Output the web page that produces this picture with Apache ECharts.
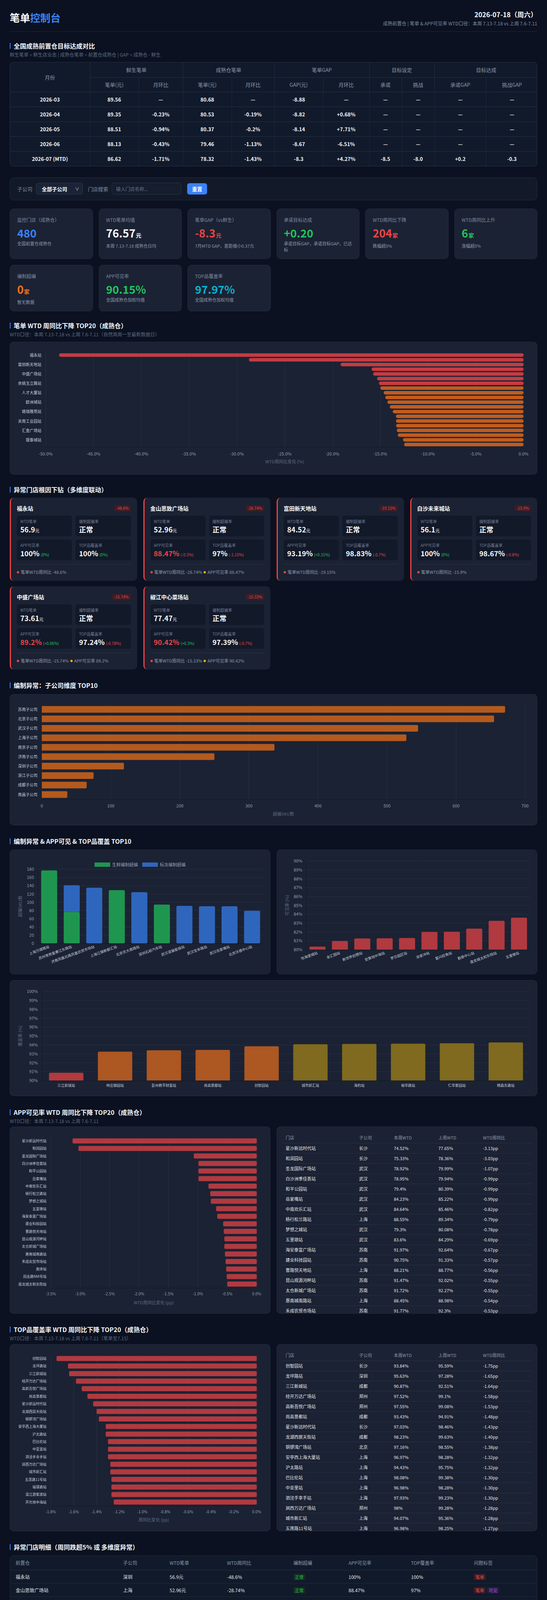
<!DOCTYPE html>
<html>
<head>
<meta charset="utf-8">
<title>笔单控制台</title>
<script src="https://cdn.jsdelivr.net/npm/echarts@6/dist/echarts.min.js"></script>
<style>
    body{margin:0;background:#0b1120;color:#e5e7eb;font-family:"Noto Sans CJK SC","Noto Sans",sans-serif;}
    .wrap{width:1350px;margin:0 25px;padding-bottom:50px;}
    .header{height:81px;border-bottom:1px solid #1f2a3c;display:flex;justify-content:space-between;box-sizing:border-box;padding-top:25px;}
    .logo{font-size:26px;font-weight:700;line-height:40px;color:#fff;}
    .logo span{color:#3b82f6;}
    .hd-right{text-align:right;margin-top:-1px;}
    .date{font-size:17px;font-weight:700;line-height:26px;color:#f8fafc;}
    .hd-sub{font-size:12px;line-height:18px;color:#7f8ca3;margin-top:1px;}
    .sec h2{margin:0;font-size:16px;line-height:22px;font-weight:700;color:#f1f5f9;position:relative;padding-left:10px;}
    .sec h2:before{content:"";position:absolute;left:0;top:4px;width:2px;height:15px;background:#3b82f6;}
    .sec .sub{font-size:12px;line-height:18px;color:#5b6b82;margin-top:3px;}
    .tbox{border:1px solid #263145;border-radius:8px;overflow:hidden;background:#111a2b;}
    #t1{border-collapse:collapse;width:100%;table-layout:fixed;font-size:13px;}
    #t1 th{padding:0;color:#8b98ad;font-weight:400;border-right:1px solid #222c3f;border-bottom:1px solid #263145;}
    #t1 td{padding:0;text-align:center;color:#f1f5f9;font-weight:600;height:37px;border-right:1px solid #1d2738;border-bottom:1px solid #263145;}
    #t1 tr:last-child td{border-bottom:none;}
    #t1 th:last-child,#t1 td:last-child{border-right:none;}
    .filter{margin-top:28px;height:59px;box-sizing:border-box;background:#121a2a;border:1px solid #1f2a3c;border-radius:10px;display:flex;align-items:center;padding:0 18px;font-size:13px;}
    .filter .lb{color:#7f8ca3;margin-right:9px;}
    .sel{width:120px;height:30px;box-sizing:border-box;background:#1b2436;border:1px solid #2a364b;border-radius:6px;color:#fff;font-weight:700;display:flex;align-items:center;justify-content:space-between;padding:0 8px 0 14px;margin-right:13px;}
    .sel span{font-weight:400;font-size:11px;color:#cbd5e1;}
    .filter input{width:178px;height:30px;box-sizing:border-box;background:#151d2e;border:1px solid #2a364b;border-radius:6px;color:#fff;padding:0 10px;font-size:12px;font-family:inherit;margin-right:15px;}
    .filter input::placeholder{color:#64748b;}
    .btn{width:51px;height:29px;border-radius:6px;background:#3b82f6;color:#fff;font-weight:700;display:flex;align-items:center;justify-content:center;}
    .kpis{margin-top:21px;display:grid;grid-template-columns:repeat(6,1fr);gap:15px;}
    .kpi{background:#1b2233;border:1px solid #222c40;border-radius:10px;padding:20px 18px 15px;box-sizing:border-box;}
    .kpi .k-l{font-size:12px;line-height:16px;color:#7f8ca3;}
    .kpi .k-v{font-size:28px;line-height:34px;font-weight:700;margin-top:8px;}
    .kpi .k-v small{font-size:14px;margin-left:1px;}
    .kpi .k-s{font-size:11px;line-height:16px;color:#8b98ad;margin-top:2px;}
    .card{background:#1b2233;border-radius:10px;box-shadow:inset 0 0 0 1px #222c40;position:relative;overflow:hidden;}
    .anos{display:grid;grid-template-columns:repeat(4,1fr);column-gap:16px;row-gap:14px;}
    .ano{height:213px;box-sizing:border-box;background:#1b2233;border-radius:10px;border-left:3px solid #ef4444;padding:17px 16px 0 15px;}
    .ano-hd{display:flex;justify-content:space-between;align-items:center;height:20px;}
    .ano-hd .nm{font-size:14px;font-weight:700;color:#f8fafc;}
    .badge{font-size:10px;color:#ef4444;background:#3a1d27;border-radius:4px;padding:2px 5px;line-height:12px;}
    .boxes{display:grid;grid-template-columns:1fr 1fr;column-gap:9px;row-gap:8px;margin-top:9px;}
    .bx{height:53px;box-sizing:border-box;background:#121929;border-radius:6px;padding:9px 9px 0;}
    .bx .l{font-size:10px;line-height:12px;color:#6f7c93;}
    .bx .v{font-size:18px;line-height:24px;font-weight:700;color:#f8fafc;margin-top:2px;white-space:nowrap;}
    .bx .v small{font-size:11px;font-weight:400;}
    .bx .v .chg{font-size:10px;font-weight:400;margin-left:3px;}
    .red{color:#ef4444;} .green{color:#22c55e;}
    .ano-ft{margin-top:10px;border-top:1px solid #2a3447;padding-top:11px;font-size:11px;line-height:16px;color:#8b98ad;}
    .dot{display:inline-block;width:6px;height:6px;border-radius:3px;margin-right:4px;vertical-align:1px;}
    .dot.r{background:#ef4444;} .dot.y{background:#eab308;margin-left:4px;}
    .row2{display:flex;justify-content:space-between;}
    .mini{position:absolute;left:14px;right:14px;top:14px;}
    .mini table{border-collapse:collapse;width:100%;table-layout:fixed;font-size:11px;}
    .mini th{color:#8b98ad;font-weight:400;text-align:left;height:28px;padding:0 0 0 9px;border-bottom:1px solid #263145;}
    .mini td{height:25px;padding:0 0 0 9px;color:#e5e7eb;border-bottom:1px solid #263145;white-space:nowrap;}
    .dtl{background:#111a2a;border:1px solid #1f2a3c;border-radius:10px;height:419px;box-sizing:border-box;overflow:hidden;}
    .dtl table{border-collapse:collapse;width:100%;table-layout:fixed;font-size:12px;}
    .dtl th{height:36px;text-align:left;padding:0 0 0 14px;color:#8b98ad;font-weight:400;border-bottom:1px solid #263145;}
    .dtl td{height:33px;padding:0 0 0 14px;color:#e5e7eb;border-bottom:1px solid #1f2a3c;}
    .tag{display:inline-block;font-size:11px;line-height:16px;padding:0 4px;border-radius:3px;margin-right:4px;}
    .tag.ok{color:#22c55e;background:#12301f;}
    .tag.bd{color:#ef4444;background:#3a1d27;}
    .tag.kj{color:#a855f7;background:#2a1d45;}
</style>
</head>
<body>
<div class="wrap">
    <div class="header">
        <div class="logo">笔单<span>控制台</span></div>
        <div class="hd-right">
            <div class="date">2026-07-18（周六）</div>
            <div class="hd-sub">成熟前置仓 | 笔单 &amp; APP可见率 WTD口径：本周 7.13-7.18 vs 上周 7.6-7.11</div>
        </div>
    </div>

    <div class="sec" style="margin:25px 0 10px"><h2>全国成熟前置仓目标达成对比</h2><div class="sub">鲜生笔单 = 鲜生店业态 | 成熟仓笔单 = 前置仓成熟仓 | GAP = 成熟仓 - 鲜生</div></div>
    <div class="tbox"><table id="t1"></table></div>

    <div class="filter">
        <span class="lb">子公司</span><div class="sel">全部子公司<span>∨</span></div>
        <span class="lb">门店搜索</span><input type="text" placeholder="输入门店名称...">
        <div class="btn">重置</div>
    </div>

    <div class="kpis" id="kpis"></div>

    <div class="sec" style="margin:25px 0 10px"><h2>笔单 WTD 周同比下降 TOP20（成熟仓）</h2><div class="sub">WTD口径：本周 7.13-7.18 vs 上周 7.6-7.11（自然周周一至最新数据日）</div></div>
    <div class="card" style="height:340px"><div id="cA" style="width:1350px;height:340px"></div></div>

    <div class="sec" style="margin:27px 0 10px"><h2>异常门店根因下钻（多维度联动）</h2></div>
    <div class="anos" id="anos"></div>

    <div class="sec" style="margin:29px 0 12px"><h2>编制异常：子公司维度 TOP10</h2></div>
    <div class="card" style="height:336px"><div id="cB" style="width:1350px;height:336px"></div></div>

    <div class="sec" style="margin:29px 0 11px"><h2>编制异常 &amp; APP可见 &amp; TOP品覆盖 TOP10</h2></div>
    <div class="row2">
        <div class="card" style="width:667px;height:319px"><div id="cC" style="width:667px;height:319px"></div></div>
        <div class="card" style="width:667px;height:319px"><div id="cD" style="width:667px;height:319px"></div></div>
    </div>
    <div class="card" style="height:297px;margin-top:15px"><div id="cE" style="width:1350px;height:297px"></div></div>

    <div class="sec" style="margin:30px 0 5px"><h2>APP可见率 WTD 周同比下降 TOP20（成熟仓）</h2><div class="sub">WTD口径：本周 7.13-7.18 vs 上周 7.6-7.11</div></div>
    <div class="row2">
        <div class="card" style="width:667px;height:479px"><div id="cF" style="width:667px;height:479px"></div></div>
        <div class="card" style="width:667px;height:479px"><div class="mini" id="tF"></div></div>
    </div>

    <div class="sec" style="margin:29px 0 6px"><h2>TOP品覆盖率 WTD 周同比下降 TOP20（成熟仓）</h2><div class="sub">WTD口径：本周 7.13-7.18 vs 上周 7.6-7.11（笔单至7.15）</div></div>
    <div class="row2">
        <div class="card" style="width:667px;height:479px"><div id="cG" style="width:667px;height:479px"></div></div>
        <div class="card" style="width:667px;height:479px"><div class="mini" id="tG"></div></div>
    </div>

    <div class="sec" style="margin:29px 0 11px"><h2>异常门店明细（周同跌超5% 或 多维度异常）</h2></div>
    <div class="dtl" id="dtl"></div>
</div>

<script type="text/javascript">
    // 月度目标达成
    var months = ['2026-03', '2026-04', '2026-05', '2026-06', '2026-07 (MTD)']
    var freshAtv = ['89.56', '89.35', '88.51', '88.13', '86.62']
    var freshMom = ['—', '-0.23%', '-0.94%', '-0.43%', '-1.71%']
    var matureAtv = ['80.68', '80.53', '80.37', '79.46', '78.32']
    var matureMom = ['—', '-0.19%', '-0.2%', '-1.13%', '-1.43%']
    var gapAtv = ['-8.88', '-8.82', '-8.14', '-8.67', '-8.3']
    var gapMom = ['—', '+0.68%', '+7.71%', '-6.51%', '+4.27%']
    var goalCommit = ['—', '—', '—', '—', '-8.5']
    var goalChallenge = ['—', '—', '—', '—', '-8.0']
    var reachCommit = ['—', '—', '—', '—', '+0.2']
    var reachChallenge = ['—', '—', '—', '—', '-0.3']

    // KPI卡片
    var kpiLabels = ['监控门店（成熟仓）', 'WTD笔单均值', '笔单GAP（vs鲜生）', '承诺目标达成', 'WTD周同比下降', 'WTD周同比上升', '编制超编', 'APP可见率', 'TOP品覆盖率']
    var kpiValues = ['480', '76.57', '-8.3', '+0.20', '204', '6', '0', '90.15%', '97.97%']
    var kpiUnits = ['', '元', '元', '', '家', '家', '家', '', '']
    var kpiSubs = ['全国前置仓成熟仓', '本周 7.13-7.18 成熟仓日均', '7月MTD GAP，差距缩小0.37元', '承诺目标GAP，承诺目标GAP，已达标', '跌幅超5%', '涨幅超5%', '暂无数据', '全国成熟仓加权均值', '全国成熟仓加权均值']
    var kpiTone = ['#3b82f6', '#f8fafc', '#ef4444', '#22c55e', '#ef4444', '#22c55e', '#f97316', '#22c55e', '#06b6d4']

    // 笔单WTD周同比下降TOP20
    var wtdNames = ['福永站', '金山思致广场站', '富田新天地站', '白沙未来城站', '中盛广场站', '椒江中心菜场站', '余姚玉立路站', '明城广场站', '人才大厦站', '仁汇大厦站',
        '欧洲城站', '东湖路站', '珞珈雅苑站', '南湖花园站', '关南工业园站', '世纪城站', '汇金广场站', '天河城站', '银泰城站', '滨江公园站']
    var wtdValues = [-48.6, -28.74, -19.15, -15.9, -15.74, -15.33, -15.13, -14.98, -14.64, -14.47,
        -14.25, -14.0, -13.69, -13.36, -13.35, -13.34, -13.27, -13.16, -12.62, -12.5]

    // 异常门店根因下钻
    var anoNames = ['福永站', '金山思致广场站', '富田新天地站', '白沙未来城站', '中盛广场站', '椒江中心菜场站']
    var anoDrop = [-48.6, -28.74, -19.15, -15.9, -15.74, -15.33]
    var anoAtv = [56.9, 52.96, 84.52, 56.1, 73.61, 77.47]
    var anoStaff = ['正常', '正常', '正常', '正常', '正常', '正常']
    var anoApp = [100, 88.47, 93.19, 100, 89.2, 90.42]
    var anoAppChg = [0, -0.3, 0.31, 0, 0.06, 0.3]
    var anoTop = [100, 97, 98.83, 98.67, 97.24, 97.39]
    var anoTopChg = [0, -1.15, -0.7, -0.8, -0.78, -0.7]

    // 子公司超编TOP10
    var subNames = ['苏南子公司', '北京子公司', '武汉子公司', '上海子公司', '南京子公司', '济南子公司', '深圳子公司', '浙江子公司', '成都子公司', '南昌子公司']
    var subValues = [671, 655, 545, 528, 337, 250, 119, 75, 65, 37]

    // 门店超编TOP10
    var staffNames = ['上海万顺路站', '苏州常熟富春江东路站', '济南凤凰北路凤凰农贸市场站', '上海江镇新都汇站', '北京农大南路站', '深圳石岩汽车站', '武汉诺展星座站', '武汉宝丰路站', '武汉岳家嘴站', '北京沃德中心站']
    var staffFresh = [177, 76, 0, 129, 0, 94, 0, 0, 0, 0]
    var staffFrozen = [0, 65, 135, 0, 124, 0, 91, 90, 90, 79]

    // APP可见率最低TOP10
    var appLowNames = ['怡海堡城站', '金汇园站', '新世界创憩站', '宏聚地中海站', '罗莎园区站', '涂家冲站', '富兴旺角站', '勤泰中心站', '盘龙城太和东院站', '五里墩站']
    var appLowValues = [80.34, 80.97, 81.26, 81.28, 81.31, 81.99, 82.01, 82.37, 83.25, 83.6]

    // TOP品覆盖率最低TOP10
    var topLowNames = ['三江新城站', '林庄御园站', '彭州教平财富站', '尚高景都站', '创智园站', '城市新汇站', '海豹站', '裕华路站', '仁华家园站', '韩森东路站']
    var topLowValues = [90.87, 93.24, 93.39, 93.43, 93.84, 94.07, 94.1, 94.13, 94.18, 94.27]

    // APP可见率WTD周同比下降TOP20
    var appDropNames = ['星沙新远时代站', '和润园站', '圣龙国际广场站', '白沙洲季佳荟站', '和平公园站', '岳家嘴站', '中南欢乐汇站', '杨行松兰路站', '梦想之城站', '五里墩站',
        '海安泰富广场站', '建业科技园站', '曹路悦天地站', '昆山观源河畔站', '太仓新城广场站', '惠南城南路站', '禾成农贸市场站', '奥体站', '润业路888号站', '盘龙城太和东院站']
    var appDropValues = [-3.13, -3.03, -1.07, -0.99, -0.99, -0.99, -0.82, -0.79, -0.78, -0.69,
        -0.67, -0.57, -0.56, -0.55, -0.55, -0.54, -0.53, -0.52, -0.51, -0.50]
    var appDropSub = ['长沙', '长沙', '武汉', '武汉', '武汉', '武汉', '武汉', '上海', '武汉', '武汉', '苏南', '苏南', '上海', '苏南', '苏南', '上海', '苏南']
    var appDropCur = ['74.52%', '75.33%', '78.92%', '78.95%', '79.4%', '84.23%', '84.64%', '88.55%', '79.3%', '83.6%', '91.97%', '90.75%', '88.21%', '91.47%', '91.72%', '88.45%', '91.77%']
    var appDropPrev = ['77.65%', '78.36%', '79.99%', '79.94%', '80.39%', '85.22%', '85.46%', '89.34%', '80.08%', '84.29%', '92.64%', '91.33%', '88.77%', '92.02%', '92.27%', '88.98%', '92.3%']

    // TOP品覆盖率WTD周同比下降TOP20
    var topDropNames = ['创智园站', '龙坪路站', '三江新城站', '经开万达广场站', '高新吾悦广场站', '尚高景都站', '星沙新远时代站', '龙湖西宸天街站', '铜锣湾广场站', '安亭西上海大厦站',
        '沪太路站', '巴比伦站', '中亚里站', '泗泾手幸手站', '涧西万达广场站', '城市新汇站', '五莲路11号站', '福璟路站', '温江游家渡站', '开元地中海站']
    var topDropValues = [-1.75, -1.65, -1.64, -1.58, -1.53, -1.48, -1.43, -1.40, -1.38, -1.32,
        -1.32, -1.30, -1.30, -1.30, -1.28, -1.28, -1.27, -1.27, -1.27, -1.25]
    var topDropSub = ['长沙', '深圳', '成都', '郑州', '郑州', '成都', '长沙', '成都', '北京', '上海', '上海', '上海', '上海', '上海', '郑州', '上海', '上海']
    var topDropCur = ['93.84%', '95.63%', '90.87%', '97.52%', '97.55%', '93.43%', '97.03%', '98.23%', '97.16%', '96.97%', '94.43%', '98.08%', '96.98%', '97.93%', '98%', '94.07%', '96.98%']
    var topDropPrev = ['95.59%', '97.28%', '92.51%', '99.1%', '99.08%', '94.91%', '98.46%', '99.63%', '98.55%', '98.28%', '95.75%', '99.38%', '98.28%', '99.23%', '99.28%', '95.36%', '98.25%']

    // 异常门店明细
    var dtlNames = ['福永站', '金山思致广场站', '富田新天地站', '白沙未来城站', '中盛广场站', '椒江中心菜场站', '余姚玉立路站', '明城广场站', '人才大厦站', '仁汇大厦站', '欧洲城站']
    var dtlSub = ['深圳', '上海', '郑州', '武汉', '浙江', '浙江', '浙江', '浙江', '浙江', '浙江', '浙江']
    var dtlAtv = ['56.9元', '52.96元', '84.52元', '56.1元', '73.61元', '77.47元', '73.87元', '74.46元', '75.8元', '66.46元', '76.04元']
    var dtlWow = ['-48.6%', '-28.74%', '-19.15%', '-15.9%', '-15.74%', '-15.33%', '-15.13%', '-14.98%', '-14.64%', '-14.47%', '-14.25%']
    var dtlStaff = ['正常', '正常', '正常', '正常', '正常', '正常', '正常', '正常', '正常', '正常', '正常']
    var dtlApp = ['100%', '88.47%', '93.19%', '100%', '89.2%', '90.42%', '92.08%', '91.16%', '90.52%', '90.95%', '90.98%']
    var dtlTop = ['100%', '97%', '98.83%', '98.67%', '97.24%', '97.39%', '98.45%', '98.4%', '97.5%', '97.48%', '97.48%']
    var dtlTags = [['笔单'], ['笔单', '可见'], ['笔单'], ['笔单'], ['笔单', '可见'], ['笔单', '可见'], ['笔单', '可见'], ['笔单', '可见'], ['笔单', '可见'], ['笔单', '可见'], ['笔单', '可见']]

    // ---------- 表格 ----------
    var h = '<colgroup><col style="width:204px"><col style="width:125px"><col style="width:113px"><col style="width:125px"><col style="width:109px"><col style="width:125px"><col style="width:118px"><col style="width:83px"><col style="width:84px"><col style="width:132px"><col style="width:132px"></colgroup>'
    h += '<tr style="height:38px"><th rowspan="2">月份</th><th colspan="2">鲜生笔单</th><th colspan="2">成熟仓笔单</th><th colspan="2">笔单GAP</th><th colspan="2">目标设定</th><th colspan="2">目标达成</th></tr>'
    h += '<tr style="height:37px"><th>笔单(元)</th><th>月环比</th><th>笔单(元)</th><th>月环比</th><th>GAP(元)</th><th>月环比</th><th>承诺</th><th>挑战</th><th>承诺GAP</th><th>挑战GAP</th></tr>'
    for (var i = 0; i < months.length; i++) {
        h += '<tr><td>' + [months[i], freshAtv[i], freshMom[i], matureAtv[i], matureMom[i], gapAtv[i], gapMom[i], goalCommit[i], goalChallenge[i], reachCommit[i], reachChallenge[i]].join('</td><td>') + '</td></tr>'
    }
    document.getElementById('t1').innerHTML = h

    h = ''
    for (var i = 0; i < kpiLabels.length; i++) {
        h += '<div class="kpi"><div class="k-l">' + kpiLabels[i] + '</div><div class="k-v" style="color:' + kpiTone[i] + '">' + kpiValues[i] +
            (kpiUnits[i] ? '<small>' + kpiUnits[i] + '</small>' : '') + '</div><div class="k-s">' + kpiSubs[i] + '</div></div>'
    }
    document.getElementById('kpis').innerHTML = h

    function chg(v) {
        return '<span class="chg ' + (v < 0 ? 'red' : 'green') + '">(' + (v > 0 ? '+' : '') + v + '%)</span>'
    }
    function box(l, v) {
        return '<div class="bx"><div class="l">' + l + '</div><div class="v">' + v + '</div></div>'
    }
    h = ''
    for (var i = 0; i < anoNames.length; i++) {
        var appBad = anoApp[i] < 91
        h += '<div class="ano"><div class="ano-hd"><span class="nm">' + anoNames[i] + '</span><span class="badge">' + anoDrop[i] + '%</span></div>' +
            '<div class="boxes">' +
            box('WTD笔单', anoAtv[i] + '<small>元</small>') +
            box('编制超编率', anoStaff[i]) +
            box('APP可见率', '<span class="' + (appBad ? 'red' : '') + '">' + anoApp[i] + '%</span>' + chg(anoAppChg[i])) +
            box('TOP品覆盖率', anoTop[i] + '%' + chg(anoTopChg[i])) +
            '</div><div class="ano-ft"><i class="dot r"></i>笔单WTD周同比 ' + anoDrop[i] + '%' +
            (appBad ? '<i class="dot y"></i>APP可见率 ' + anoApp[i] + '%' : '') + '</div></div>'
    }
    document.getElementById('anos').innerHTML = h

    function miniTable(id, names, subs, cur, prev, vals) {
        var s = '<table><colgroup><col style="width:188px"><col style="width:89px"><col style="width:114px"><col style="width:114px"><col></colgroup>'
        s += '<tr><th>门店</th><th>子公司</th><th>本周WTD</th><th>上周WTD</th><th>WTD周同比</th></tr>'
        for (var i = 0; i < subs.length; i++) {
            s += '<tr><td>' + names[i] + '</td><td>' + subs[i] + '</td><td>' + cur[i] + '</td><td>' + prev[i] + '</td><td class="red">' + vals[i].toFixed(2) + 'pp</td></tr>'
        }
        document.getElementById(id).innerHTML = s + '</table>'
    }
    miniTable('tF', appDropNames, appDropSub, appDropCur, appDropPrev, appDropValues)
    miniTable('tG', topDropNames, topDropSub, topDropCur, topDropPrev, topDropValues)

    h = '<table><colgroup><col style="width:275px"><col style="width:119px"><col style="width:147px"><col style="width:170px"><col style="width:141px"><col style="width:160px"><col style="width:161px"><col></colgroup>'
    h += '<tr><th>前置仓</th><th>子公司</th><th>WTD笔单</th><th>WTD周同比</th><th>编制超编</th><th>APP可见率</th><th>TOP覆盖率</th><th>问题标签</th></tr>'
    for (var i = 0; i < dtlNames.length; i++) {
        var tags = ''
        for (var j = 0; j < dtlTags[i].length; j++) {
            tags += '<span class="tag ' + (dtlTags[i][j] == '笔单' ? 'bd' : 'kj') + '">' + dtlTags[i][j] + '</span>'
        }
        h += '<tr><td>' + dtlNames[i] + '</td><td>' + dtlSub[i] + '</td><td>' + dtlAtv[i] + '</td><td>' + dtlWow[i] + '</td><td><span class="tag ok">' + dtlStaff[i] + '</span></td><td>' +
            dtlApp[i] + '</td><td>' + dtlTop[i] + '</td><td>' + tags + '</td></tr>'
    }
    document.getElementById('dtl').innerHTML = h + '</table>'

    // ---------- 图表 ----------
    var font = '"Noto Sans CJK SC","Noto Sans",sans-serif'
    var axisC = '#94a3b8', catC = '#cbd5e1', splitC = '#252f42', nameC = '#5f6f86', baseC = '#121826'

    function pct1(v) { return v.toFixed(1) + '%' }

    function hbar(id, names, values, grid, x, color, barW, labelInterval, catSize) {
        var c = echarts.init(document.getElementById(id))
        c.setOption({
            animation: false,
            textStyle: {fontFamily: font},
            grid: Object.assign({outerBoundsMode: 'none'}, grid),
            xAxis: {
                type: 'value', min: x.min, max: x.max, interval: x.interval,
                axisLabel: {color: axisC, fontSize: x.fontSize, margin: x.margin, formatter: x.formatter},
                splitLine: {show: true, lineStyle: {color: splitC}},
                axisLine: {show: true, onZero: false, lineStyle: {color: baseC}},
                axisTick: {show: false},
                name: x.name, nameLocation: 'middle', nameGap: x.nameGap,
                nameTextStyle: {color: nameC, fontSize: 11}
            },
            yAxis: {
                type: 'category', inverse: true, data: names, position: 'left',
                axisLabel: {color: catC, fontSize: catSize, interval: labelInterval, margin: 11},
                axisLine: {show: false, onZero: false}, axisTick: {show: false}
            },
            series: [{type: 'bar', data: values, barWidth: barW, itemStyle: {color: color, borderRadius: x.radius}}]
        })
    }

    hbar('cA', wtdNames, wtdValues, {left: 92, right: 35, top: 28, bottom: 71},
        {min: -50, max: 0, interval: 5, fontSize: 11, margin: 12, formatter: pct1, name: 'WTD周同比变化 (%)', nameGap: 32, radius: 5},
        function (p) { return p.value <= -15 ? '#c43c42' : '#c05c1e' }, 9, 1, 10)

    hbar('cB', subNames, subValues, {left: 82, right: 31, top: 27, bottom: 67},
        {min: 0, max: 700, interval: 100, fontSize: 11, margin: 11, formatter: '{value}', name: '超编SKU数', nameGap: 32, radius: [0, 3, 3, 0]},
        '#b45a1e', 17, 0, 10)

    hbar('cF', appDropNames, appDropValues, {left: 105, right: 35, top: 27, bottom: 66},
        {min: -3.5, max: 0, interval: 0.5, fontSize: 10, margin: 10, formatter: pct1, name: 'WTD周同比变化 (pp)', nameGap: 32, radius: 3},
        '#b03a40', 13, 0, 9)

    hbar('cG', topDropNames, topDropValues, {left: 105, right: 35, top: 27, bottom: 65},
        {min: -1.8, max: 0, interval: 0.2, fontSize: 10, margin: 10, formatter: pct1, name: '周同比变化 (pp)', nameGap: 30, radius: 3},
        '#b03a40', 13, 0, 9)

    function vAxis(min, max, interval, fmt, name, gap) {
        return {
            type: 'value', min: min, max: max, interval: interval,
            axisLabel: {color: axisC, fontSize: 11, margin: 10, formatter: fmt},
            splitLine: {show: true, lineStyle: {color: splitC}},
            axisLine: {show: true, lineStyle: {color: baseC}},
            name: name, nameLocation: 'middle', nameGap: gap, nameTextStyle: {color: nameC, fontSize: 11}
        }
    }
    function cAxis(names, rotate) {
        return {
            type: 'category', data: names,
            axisLabel: {color: catC, fontSize: 9, interval: 0, rotate: rotate, margin: 8},
            axisTick: {show: false}, axisLine: {lineStyle: {color: baseC}}
        }
    }

    var cC = echarts.init(document.getElementById('cC'))
    cC.setOption({
        animation: false,
        textStyle: {fontFamily: font},
        legend: {top: 28, icon: 'rect', itemWidth: 40, itemHeight: 11, itemGap: 11, textStyle: {color: axisC, fontSize: 11}},
        grid: {left: 72, right: 18, top: 50, bottom: 79, outerBoundsMode: 'none'},
        xAxis: cAxis(staffNames, 20),
        yAxis: vAxis(0, 180, 20, '{value}', '超编SKU数', 38),
        series: [
            {name: '生鲜编制超编', type: 'bar', stack: 'sku', data: staffFresh, barWidth: 41, itemStyle: {color: '#1f9650', borderRadius: 3}},
            {name: '标冻编制超编', type: 'bar', stack: 'sku', data: staffFrozen, barWidth: 41, itemStyle: {color: '#2f66bd', borderRadius: 3}}
        ]
    })

    var cD = echarts.init(document.getElementById('cD'))
    cD.setOption({
        animation: false,
        textStyle: {fontFamily: font},
        grid: {left: 76, right: 18, top: 29, bottom: 63, outerBoundsMode: 'none'},
        xAxis: cAxis(appLowNames, 20),
        yAxis: vAxis(80, 90, 1, '{value}%', '可见率 (%)', 42),
        series: [{type: 'bar', data: appLowValues, barWidth: 41, itemStyle: {color: '#b03a40', borderRadius: [3, 3, 0, 0]}}]
    })

    var cE = echarts.init(document.getElementById('cE'))
    cE.setOption({
        animation: false,
        textStyle: {fontFamily: font},
        grid: {left: 82, right: 18, top: 29, bottom: 40, outerBoundsMode: 'none'},
        xAxis: cAxis(topLowNames, 0),
        yAxis: vAxis(90, 100, 1, '{value}%', '覆盖率 (%)', 49),
        series: [{
            type: 'bar', data: topLowValues, barWidth: 88,
            itemStyle: {
                borderRadius: [3, 3, 0, 0],
                color: function (p) { return p.value < 92 ? '#b33a3f' : (p.value < 94 ? '#ad5722' : '#7f6a1f') }
            }
        }]
    })
</script>
</body>
</html>
